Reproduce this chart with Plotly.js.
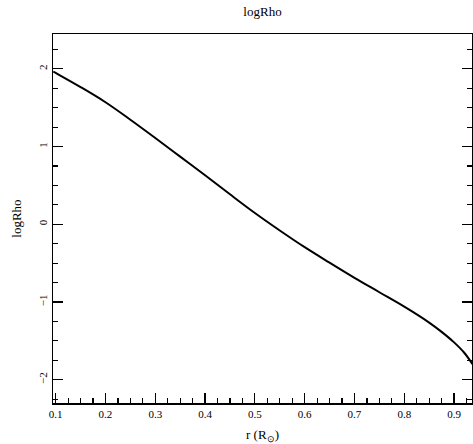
<!DOCTYPE html>
<html>
<head>
<meta charset="utf-8">
<script src="https://cdn.plot.ly/plotly-3.0.1.min.js"></script>
<style>html,body{margin:0;padding:0;background:#fff;}</style>
</head>
<body>
<div id="chart" style="width:473px;height:444px;"></div>
<script>
const r = [0.095, 0.1, 0.15, 0.2, 0.25, 0.3, 0.35, 0.4, 0.45, 0.5, 0.55, 0.6, 0.65, 0.7, 0.75, 0.8, 0.85, 0.875, 0.9, 0.92, 0.937];
const logRho = [1.965, 1.947, 1.765, 1.57, 1.345, 1.11, 0.87, 0.63, 0.385, 0.145, -0.08, -0.295, -0.495, -0.69, -0.875, -1.06, -1.265, -1.385, -1.52, -1.65, -1.80];
const xTickVals = [0.1, 0.2, 0.3, 0.4, 0.5, 0.6, 0.7, 0.8, 0.9];
const yTickVals = [-2, -1, 0, 1, 2];
const yTickText = ['\u22122', '\u22121', '0', '1', '2'];

const font = {family: 'Liberation Serif', color: '#000'};

Plotly.newPlot('chart', [{
  x: r, y: logRho, type: 'scatter', mode: 'lines',
  line: {color: '#000', width: 2, shape: 'spline', smoothing: 1},
  hoverinfo: 'skip'
}], {
  width: 473, height: 444,
  margin: {l: 53, r: 1, t: 34, b: 41, pad: 0},
  paper_bgcolor: '#fff', plot_bgcolor: '#fff',
  font: Object.assign({size: 11}, font),
  showlegend: false,
  title: {text: 'logRho', font: Object.assign({size: 13}, font), x: 0.555, xanchor: 'center', y: 0.975, yanchor: 'middle'},
  xaxis: {
    range: [0.0946, 0.936],
    showgrid: false, zeroline: false,
    showline: true, linecolor: '#000', linewidth: 1.5, mirror: true,
    ticks: 'inside', ticklen: 10, tickwidth: 1.2, tickcolor: '#000',
    tickvals: xTickVals, ticktext: xTickVals.map(v => v.toFixed(1)),
    tickfont: Object.assign({size: 11}, font),
    minor: {ticks: 'inside', dtick: 0.025, tick0: 0, ticklen: 5, tickwidth: 1.2, tickcolor: '#000', showgrid: false},
    title: {text: 'r (R<sub>\u2299</sub>)', font: Object.assign({size: 13}, font), standoff: 13}
  },
  yaxis: {
    range: [-2.30, 2.448],
    showgrid: false, zeroline: false,
    showline: true, linecolor: '#000', linewidth: 1.5, mirror: 'ticks',
    ticks: 'inside', ticklen: 10, tickwidth: 1.2, tickcolor: '#000',
    tickvals: yTickVals, ticktext: yTickText, tickangle: -90,
    tickfont: Object.assign({size: 11}, font),
    minor: {ticks: 'inside', dtick: 0.25, tick0: 0, ticklen: 5, tickwidth: 1.2, tickcolor: '#000', showgrid: false},
    title: {text: 'logRho', font: Object.assign({size: 13}, font), standoff: 12}
  }
}, {displayModeBar: false, staticPlot: true});
</script>
</body>
</html>
